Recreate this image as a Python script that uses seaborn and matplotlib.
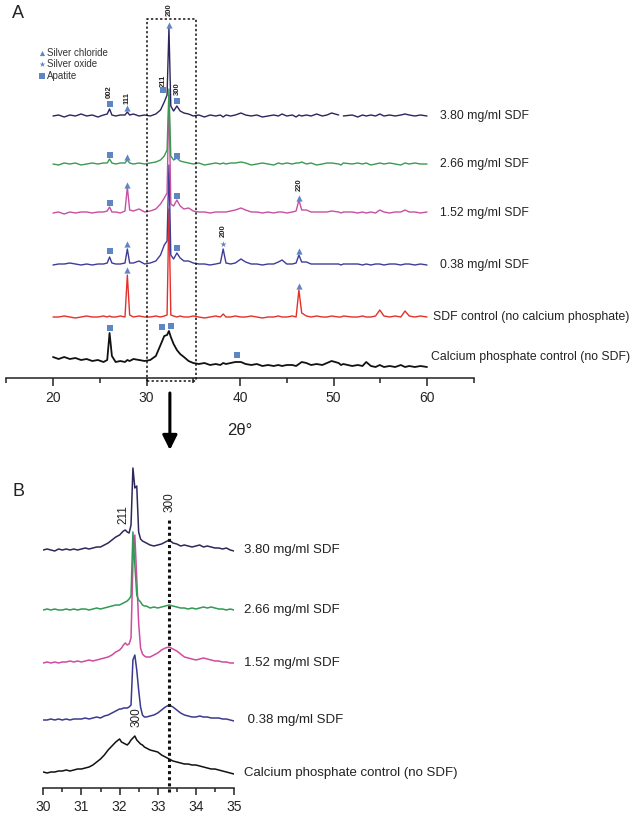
import numpy as np
import pandas as pd
import seaborn as sns
import matplotlib.pyplot as plt
from matplotlib.patches import Rectangle
from matplotlib.ticker import FixedLocator, MultipleLocator

sns.set_style('white')
plt.rcParams['font.family'] = ['Liberation Sans', 'DejaVu Sans']

nan = np.nan

# ---------------- Panel A data (2-theta grid and heights above each baseline) ----------------
theta_A = [20.0, 20.6, 21.2, 21.8, 22.4, 23.0, 23.6, 24.2, 24.8, 25.4,
           25.8, 26.05, 26.3, 26.7, 27.2, 27.7, 27.95, 28.2, 28.6, 29.2,
           29.8, 30.4, 31.0, 31.5, 31.9, 32.2, 32.4, 32.6, 32.9, 33.25,
           33.6, 34.0, 34.5, 35.0, 35.6, 36.2, 36.8, 37.4, 37.9, 38.2,
           38.5, 39.0, 39.5, 40.1, 40.6, 41.2, 41.8, 42.4, 43.0, 43.6,
           44.1, 44.5, 45.0, 45.6, 46.0, 46.3, 46.6, 47.1, 47.6, 48.2,
           48.8, 49.3, 49.8, 50.55, 50.8, 51.05, 52.0, 52.6, 53.1, 53.5,
           54.0, 54.5, 54.95, 55.4, 56.0, 56.6, 57.2, 57.65, 58.1, 58.7,
           59.3, 60.0]

sdf380_A = [0, 1, -1, 1, 0, 2, 0, 1, -1, 1,
            2, 7, 1, 0, 1, 1, 4, 1, 2, 0,
            1, 0, 2, 6, 14, 21, 88, 10, 5, 10,
            5, 3, 2, 0, 1, -1, 1, 0, 1, -1,
            1, 0, 1, 3, 1, 0, 1, -1, 0, 1,
            0, 2, 0, 1, -1, 1, 0, 1, 0, 2,
            0, 1, 3, 1, nan, 0, 1, -1, 1, 0,
            1, 0, 2, 0, 1, 0, 1, 2, 1, 0,
            1, 0]
sdf266_A = [0, -1, 1, 0, 1, -1, 0, 1, 0, 1,
            1, 5, 1, 0, 1, 1, 4, 1, 0, 1,
            0, 1, 2, 4, 8, 14, 75, 8, 4, 6,
            3, 2, 1, 0, 1, -1, 0, 1, 0, 1,
            0, 1, 1, 2, 1, -1, 0, 1, 0, -1,
            1, 0, 1, 0, 1, 1, 2, 0, 1, -1,
            0, 1, 1, 0, -1, 1, 0, 1, 0, 1,
            -1, 0, 1, 0, 1, 0, -1, 1, 0, 1,
            0, 0]
sdf152_A = [0, 1, -1, 1, 0, 1, 1, 0, 1, 1,
            2, 6, 1, 1, 0, 2, 26, 3, 2, 4,
            1, 2, 4, 9, 15, 20, 118, 9, 7, 13,
            7, 4, 5, 2, 1, 1, 0, 1, 1, 1,
            1, 2, 3, 5, 3, 1, 1, 0, 1, 0,
            1, 1, 0, 1, 2, 13, 3, 3, 1, 1,
            1, 1, 2, 1, 0, 1, 1, 0, 1, 0,
            1, 0, 3, 1, 0, 1, 1, 3, 1, 1,
            0, 1]
sdf038_A = [0, 1, 1, 2, 1, 0, 1, 0, 1, 1,
            2, 8, 2, 1, 1, 2, 16, 2, 2, 4,
            1, 2, 4, 10, 20, 24, 100, 10, 6, 12,
            7, 4, 4, 2, 1, 1, 0, 1, 2, 16,
            2, 1, 2, 6, 3, 1, 1, 0, 1, 1,
            3, 5, 1, 1, 2, 10, 3, 3, 1, 1,
            1, 1, 1, 1, 0, 1, 1, 1, 0, 1,
            0, 1, 1, 0, 1, 1, 0, 1, 1, 0,
            1, 0]
sdfctrl_A = [0, 0, 1, 0, -1, 0, 1, 0, 0, 1,
             0, 1, 0, 0, 1, 0, 42, 2, 0, 1,
             0, 0, 1, 0, 1, 2, 108, 2, 1, 0,
             1, 0, 0, 1, 0, -1, 0, 1, 0, 3,
             0, 0, 1, 0, 0, 1, 0, -1, 0, 0,
             1, 0, 0, 1, 0, 27, 4, 1, 0, 1,
             0, 0, 1, 0, 0, 1, 0, 0, 1, 0,
             0, 1, 7, 1, 0, 1, 0, 6, 1, 0,
             1, 0]
capctrl_A = [5, 3, 5, 3, 4, 2, 3, 1, 2, 0,
             2, 29, 6, 0, 1, 0, 2, 1, 3, 2,
             1, 2, 6, 17, 26, 27, 31, 25, 18, 12,
             8, 5, 1, -1, -2, -1, -3, -2, -3, -1,
             -2, -1, 0, 0, -2, -3, -2, -4, -3, -4,
             -3, -4, -3, -3, -4, -2, 0, -1, -3, -2,
             -3, -1, 1, -1, -3, -2, -4, -3, -4, 0,
             -4, -5, -3, -5, -4, -5, -3, -5, -4, -5,
             -4, -5]

labels_A = ["3.80 mg/ml SDF", "2.66 mg/ml SDF", "1.52 mg/ml SDF", "0.38 mg/ml SDF",
            "SDF control (no calcium phosphate)", "Calcium phosphate control (no SDF)"]
offsets_A = [262, 214, 165, 113, 61, 16]
colors_A = ["#2c245e", "#3a9a4f", "#c650a0", "#3f3c98", "#e5302a", "#111111"]

# phase markers (2-theta, height in panel units)
chloride_x = [27.95, 27.95, 27.95, 27.95, 27.95, 32.4, 46.3, 46.3, 46.3]
chloride_y = [270, 221, 193, 134, 108, 353, 180, 127, 92]
oxide_x = [38.2]
oxide_y = [134]
apatite_x = [26.05, 31.8, 33.25, 26.05, 33.3, 26.05, 33.3, 26.05, 33.3, 26.1, 31.65, 32.6, 39.7]
apatite_y = [274, 288, 277, 223, 222, 175, 182, 127, 130, 50, 51, 52, 23]
hkl_A_text = ["002", "111", "211", "300", "200", "220", "200"]
hkl_A_x = [26.05, 27.95, 31.8, 33.3, 32.4, 46.3, 38.2]
hkl_A_y = [286, 280, 297, 289, 368, 193, 147]

# ---------------- Panel B data ----------------
theta_B = [30.0, 30.1, 30.2, 30.3, 30.4, 30.5, 30.6, 30.7, 30.8, 30.9,
           31.0, 31.1, 31.2, 31.3, 31.4, 31.5, 31.6, 31.7, 31.8, 31.9,
           32.0, 32.05, 32.1, 32.15, 32.2, 32.25, 32.3, 32.35, 32.4, 32.45,
           32.5, 32.55, 32.6, 32.65, 32.7, 32.8, 32.9, 33.0, 33.1, 33.2,
           33.3, 33.4, 33.5, 33.6, 33.7, 33.8, 33.9, 34.0, 34.1, 34.2,
           34.3, 34.4, 34.5, 34.6, 34.7, 34.8, 34.9, 35.0]
sdf380_B = [0, 1, 0, -1, 1, 0, 1, 0, 1, 0,
            1, 2, 1, 2, 3, 3, 5, 7, 10, 13,
            15, 17, 19, 20, 18, 17, 25, 82, 62, 64,
            18, 11, 9, 8, 7, 5, 4, 5, 6, 8,
            10, 7, 6, 4, 5, 4, 3, 4, 5, 3,
            4, 3, 2, 2, 1, 2, 0, -1]
sdf266_B = [0, 1, 0, 1, 0, 0, 1, 0, 1, 0,
            1, 1, 0, 1, 2, 1, 2, 3, 4, 5,
            5, 6, 7, 8, 9, 11, 14, 78, 45, 15,
            10, 8, 5, 4, 4, 2, 3, 2, 3, 4,
            5, 4, 3, 2, 2, 1, 2, 1, 2, 3,
            2, 3, 2, 1, 1, 0, 1, 0]
sdf152_B = [0, 1, 0, 1, 0, 1, 1, 2, 1, 2,
            1, 2, 3, 2, 3, 4, 5, 6, 8, 11,
            13, 15, 18, 20, 18, 19, 25, 100, 128, 85,
            40, 15, 9, 7, 6, 6, 8, 10, 13, 15,
            16, 14, 12, 9, 6, 5, 4, 3, 4, 5,
            4, 3, 2, 2, 1, 1, 0, 0]
sdf038_B = [0, 0, 1, 0, 1, 0, 1, 0, 1, 1,
            1, 2, 1, 2, 3, 2, 4, 5, 7, 9,
            11, 11, 12, 12, 12, 13, 15, 60, 65, 50,
            30, 13, 5, 3, 3, 4, 5, 7, 10, 13,
            15, 13, 10, 7, 5, 4, 3, 3, 4, 3,
            3, 2, 2, 2, 1, 1, 0, -1]
capctrl_B = [1, 0, 1, 1, 2, 2, 3, 2, 3, 4,
             4, 5, 6, 8, 11, 14, 18, 23, 27, 31,
             34, 31, 30, 29, 28, 30, 33, 35, 37, 33,
             31, 29, 28, 26, 25, 23, 22, 21, 18, 16,
             14, 12, 11, 10, 9, 9, 8, 8, 7, 6,
             5, 4, 4, 3, 2, 1, 0, -1]

labels_B = ["3.80 mg/ml SDF", "2.66 mg/ml SDF", "1.52 mg/ml SDF", " 0.38 mg/ml SDF",
            "Calcium phosphate control (no SDF)"]
offsets_B = [238, 178, 125, 68, 15]
colors_B = ["#2e2858", "#2f9a55", "#d04b9f", "#3a3a8e", "#111111"]
ref_300_B = 33.3
hkl_B_text = ["211", "300", "300"]
hkl_B_x = [32.1, 33.3, 32.45]
hkl_B_y = [273, 286, 71]

MARK = "#5f86c4"


def draw(ax, x, h, off, color, lw):
    x = np.asarray(x, float)
    y = np.asarray(h, float) + off
    bad = np.where(np.isnan(y))[0]
    bounds = [-1] + list(bad) + [len(y)]
    for a, b in zip(bounds[:-1], bounds[1:]):
        if b - a - 1 > 1:
            df = pd.DataFrame({"t": x[a + 1:b], "v": y[a + 1:b]})
            sns.lineplot(data=df, x="t", y="v", ax=ax, color=color, lw=lw,
                         estimator=None, sort=False, legend=False)


fig = plt.figure(figsize=(6.38, 8.17), dpi=100)
W, H = 638.0, 817.0

# ---------------- Panel A ----------------
axA = fig.add_axes([6.25 / W, (H - 378) / H, 467.5 / W, 368 / H])
seriesA = [sdf380_A, sdf266_A, sdf152_A, sdf038_A, sdfctrl_A, capctrl_A]
for i in range(5, -1, -1):
    draw(axA, theta_A, seriesA[i], offsets_A[i], colors_A[i], 1.0 if i < 5 else 1.3)
axA.set_xlim(15, 65)
axA.set_ylim(0, 368)
for s in ["left", "top", "right"]:
    axA.spines[s].set_visible(False)
axA.spines["bottom"].set_linewidth(1.1)
axA.spines["bottom"].set_color("#222222")
axA.set_yticks([])
axA.xaxis.set_major_locator(MultipleLocator(10))
axA.xaxis.set_minor_locator(FixedLocator([15, 25, 35, 45, 55, 65]))
axA.tick_params(axis="x", which="major", direction="out", length=6, width=1.1,
                labelsize=10, bottom=True, color="#222222")
axA.tick_params(axis="x", which="minor", direction="out", length=3.5, width=1.1,
                bottom=True, color="#222222")
axA.set_xlabel("")
axA.set_ylabel("")

axA.scatter(chloride_x, chloride_y, marker="^", s=20, color=MARK, zorder=6, clip_on=False, linewidths=0)
axA.scatter(oxide_x, oxide_y, marker="*", s=22, color=MARK, zorder=6, clip_on=False, linewidths=0)
axA.scatter(apatite_x, apatite_y, marker="s", s=14, color=MARK, zorder=6, clip_on=False, linewidths=0)
for t, x, y in zip(hkl_A_text, hkl_A_x, hkl_A_y):
    axA.text(x, y, t, rotation=90, fontsize=5.5, fontweight="bold", ha="center", va="center",
             color="#222222", clip_on=False)
for lab, off, px in zip(labels_A, offsets_A, [440, 440, 440, 440, 433, 431]):
    axA.text(20 + (px - 53) / 9.35, off + (5 if lab.startswith("Calcium") else 0), lab,
             fontsize=8.8, ha="left", va="center", color="#222222", clip_on=False)

# legend (manual)
leg_y = [325, 314, 302]
leg_m = ["^", "*", "s"]
leg_t = ["Silver chloride", "Silver oxide", "Apatite"]
for yy, m, t in zip(leg_y, leg_m, leg_t):
    axA.scatter([18.8], [yy], marker=m, s=14 if m != "*" else 18, color=MARK, clip_on=False, linewidths=0)
    axA.text(19.35, yy, t, fontsize=7, ha="left", va="center", color="#333333", clip_on=False)

# zoom box
axA.add_patch(Rectangle((30, -3), 5.3, 362, fill=False, ls=(0, (1.5, 1.5)), lw=1.1,
                        ec="#111111", clip_on=False, zorder=7))
axA.annotate("", xy=(32.5, -72), xytext=(32.5, -15),
             arrowprops=dict(arrowstyle="-|>", lw=2.2, color="black", mutation_scale=22,
                             shrinkA=0, shrinkB=0), annotation_clip=False)
axA.text(40, -52, "2θ°", fontsize=12, ha="center", va="center", color="#222222")

fig.text(18 / W, 1 - 14 / H, "A", fontsize=13, ha="center", va="center", color="#222222")
fig.text(18 / W, 1 - 492 / H, "B", fontsize=13, ha="center", va="center", color="#222222")

# ---------------- Panel B ----------------
axB = fig.add_axes([43.3 / W, (H - 788) / H, (234 - 43.3) / W, 333 / H])
seriesB = [sdf380_B, sdf266_B, sdf152_B, sdf038_B, capctrl_B]
for i in range(4, -1, -1):
    draw(axB, theta_B, seriesB[i], offsets_B[i], colors_B[i], 1.1)
axB.set_xlim(30, 35)
axB.set_ylim(0, 333)
for s in ["left", "top", "right"]:
    axB.spines[s].set_visible(False)
axB.spines["bottom"].set_linewidth(1.1)
axB.spines["bottom"].set_color("#222222")
axB.set_yticks([])
axB.xaxis.set_major_locator(MultipleLocator(1))
axB.xaxis.set_minor_locator(MultipleLocator(0.5))
axB.tick_params(axis="x", which="major", direction="out", length=5, width=1.1,
                labelsize=10, bottom=True, color="#222222")
axB.tick_params(axis="x", which="minor", direction="out", length=3, width=1.1,
                bottom=True, color="#222222")
axB.set_xlabel("")
axB.set_ylabel("")
axB.plot([ref_300_B, ref_300_B], [-4, 268], ls=(0, (1, 1)), lw=2.2, color="#111111",
         clip_on=False, zorder=7)
for t, x, y in zip(hkl_B_text, hkl_B_x, hkl_B_y):
    axB.text(x, y, t, rotation=90, fontsize=8.5, ha="center", va="center", color="#222222",
             clip_on=False)
for lab, off in zip(labels_B, offsets_B):
    axB.text(35.25, off, lab, fontsize=9.5, ha="left", va="center", color="#222222", clip_on=False)

fig.savefig("out.png", dpi=100)
